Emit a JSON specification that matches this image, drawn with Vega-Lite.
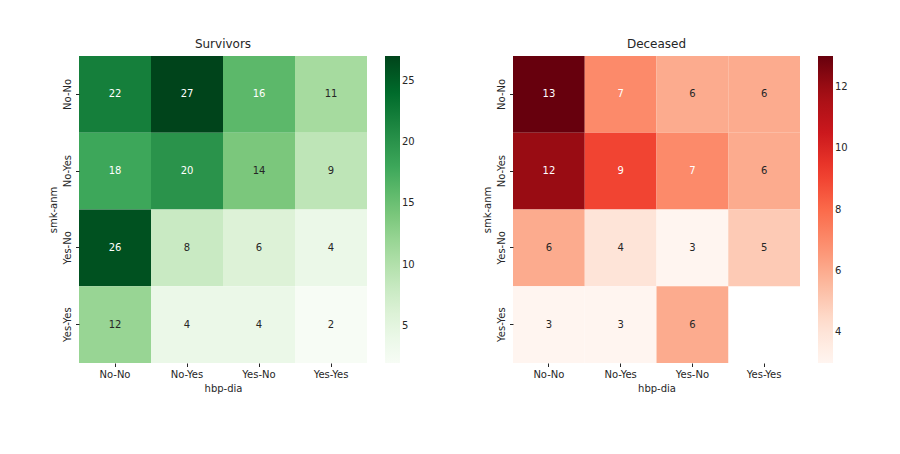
{
  "$schema": "https://vega.github.io/schema/vega-lite/v6.json",
  "background": "white",
  "padding": {"left": 48, "top": 38, "right": 5, "bottom": 5},
  "config": {
    "font": "DejaVu Sans",
    "view": {"stroke": null},
    "axis": {"domain": false, "grid": false, "labelFontSize": 10, "titleFontSize": 10, "titleFontWeight": "normal", "labelColor": "#262626", "titleColor": "#262626", "tickColor": "#262626", "tickSize": 3.5, "labelPadding": 3, "titlePadding": 4},
    "title": {"fontSize": 12, "fontWeight": "normal", "color": "#262626", "offset": 5},
    "legend": {"labelFontSize": 10, "labelColor": "#262626"}
  },
  "spacing": 146,
  "bounds": "flush",
  "resolve": {"scale": {"color": "independent"}},
  "hconcat": [
    {
      "title": "Survivors",
      "width": 288,
      "height": 307,
      "data": {"values": [
        {"smk": "No-No", "hbp": "No-No", "v": 22},
        {"smk": "No-No", "hbp": "No-Yes", "v": 27},
        {"smk": "No-No", "hbp": "Yes-No", "v": 16},
        {"smk": "No-No", "hbp": "Yes-Yes", "v": 11},
        {"smk": "No-Yes", "hbp": "No-No", "v": 18},
        {"smk": "No-Yes", "hbp": "No-Yes", "v": 20},
        {"smk": "No-Yes", "hbp": "Yes-No", "v": 14},
        {"smk": "No-Yes", "hbp": "Yes-Yes", "v": 9},
        {"smk": "Yes-No", "hbp": "No-No", "v": 26},
        {"smk": "Yes-No", "hbp": "No-Yes", "v": 8},
        {"smk": "Yes-No", "hbp": "Yes-No", "v": 6},
        {"smk": "Yes-No", "hbp": "Yes-Yes", "v": 4},
        {"smk": "Yes-Yes", "hbp": "No-No", "v": 12},
        {"smk": "Yes-Yes", "hbp": "No-Yes", "v": 4},
        {"smk": "Yes-Yes", "hbp": "Yes-No", "v": 4},
        {"smk": "Yes-Yes", "hbp": "Yes-Yes", "v": 2}
      ]},
      "encoding": {
        "x": {"field": "hbp", "type": "ordinal", "sort": ["No-No", "No-Yes", "Yes-No", "Yes-Yes"], "title": "hbp-dia", "axis": {"labelAngle": 0}},
        "y": {"field": "smk", "type": "ordinal", "sort": ["No-No", "No-Yes", "Yes-No", "Yes-Yes"], "title": "smk-anm", "axis": {"labelAngle": -90}}
      },
      "layer": [
        {"mark": {"type": "rect"}, "encoding": {"color": {"field": "v", "type": "quantitative", "scale": {"domain": [2, 5.125, 8.25, 11.375, 14.5, 17.625, 20.75, 23.875, 27], "range": ["#f7fcf5", "#e5f5e0", "#c7e9c0", "#a1d99b", "#74c476", "#41ab5d", "#238b45", "#006d2c", "#00441b"], "interpolate": "rgb"}, "legend": {"title": null, "gradientLength": 307, "gradientThickness": 15, "values": [5, 10, 15, 20, 25], "offset": 18, "gradientStrokeWidth": 0}}}},
        {"mark": {"type": "text", "fontSize": 10}, "encoding": {"text": {"field": "v", "type": "quantitative"}, "color": {"condition": {"test": "datum.v >= 15", "value": "white"}, "value": "#262626"}}}
      ]
    },
    {
      "title": "Deceased",
      "width": 287,
      "height": 307,
      "data": {"values": [
        {"smk": "No-No", "hbp": "No-No", "v": 13},
        {"smk": "No-No", "hbp": "No-Yes", "v": 7},
        {"smk": "No-No", "hbp": "Yes-No", "v": 6},
        {"smk": "No-No", "hbp": "Yes-Yes", "v": 6},
        {"smk": "No-Yes", "hbp": "No-No", "v": 12},
        {"smk": "No-Yes", "hbp": "No-Yes", "v": 9},
        {"smk": "No-Yes", "hbp": "Yes-No", "v": 7},
        {"smk": "No-Yes", "hbp": "Yes-Yes", "v": 6},
        {"smk": "Yes-No", "hbp": "No-No", "v": 6},
        {"smk": "Yes-No", "hbp": "No-Yes", "v": 4},
        {"smk": "Yes-No", "hbp": "Yes-No", "v": 3},
        {"smk": "Yes-No", "hbp": "Yes-Yes", "v": 5},
        {"smk": "Yes-Yes", "hbp": "No-No", "v": 3},
        {"smk": "Yes-Yes", "hbp": "No-Yes", "v": 3},
        {"smk": "Yes-Yes", "hbp": "Yes-No", "v": 6}
      ]},
      "encoding": {
        "x": {"field": "hbp", "type": "ordinal", "sort": ["No-No", "No-Yes", "Yes-No", "Yes-Yes"], "scale": {"domain": ["No-No", "No-Yes", "Yes-No", "Yes-Yes"]}, "title": "hbp-dia", "axis": {"labelAngle": 0}},
        "y": {"field": "smk", "type": "ordinal", "sort": ["No-No", "No-Yes", "Yes-No", "Yes-Yes"], "title": "smk-anm", "axis": {"labelAngle": -90}}
      },
      "layer": [
        {"mark": {"type": "rect"}, "encoding": {"color": {"field": "v", "type": "quantitative", "scale": {"domain": [3, 4.25, 5.5, 6.75, 8, 9.25, 10.5, 11.75, 13], "range": ["#fff5f0", "#fee0d2", "#fcbba1", "#fc9272", "#fb6a4a", "#ef3b2c", "#cb181d", "#a50f15", "#67000d"], "interpolate": "rgb"}, "legend": {"title": null, "gradientLength": 307, "gradientThickness": 15, "values": [4, 6, 8, 10, 12], "offset": 18, "gradientStrokeWidth": 0}}}},
        {"mark": {"type": "text", "fontSize": 10}, "encoding": {"text": {"field": "v", "type": "quantitative"}, "color": {"condition": {"test": "datum.v >= 7", "value": "white"}, "value": "#262626"}}}
      ]
    }
  ]
}
